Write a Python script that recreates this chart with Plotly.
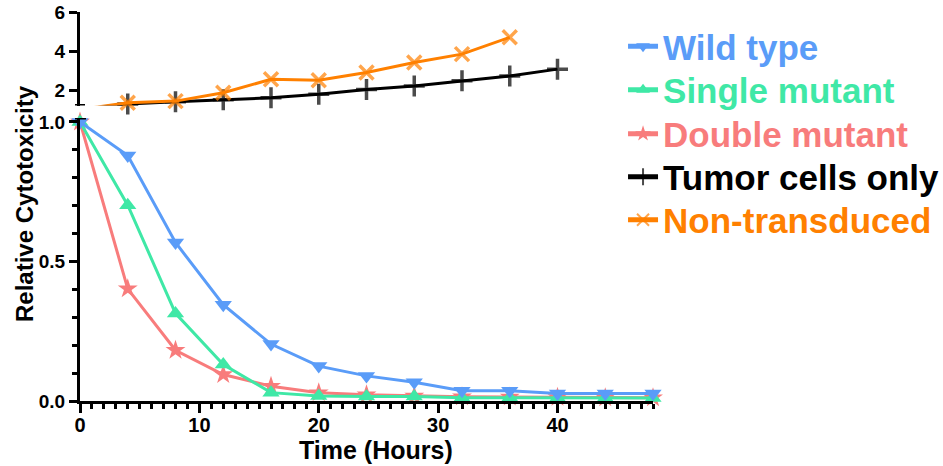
import plotly.graph_objects as go

# Sampling times (hours)
hours = [0, 4, 8, 12, 16, 20, 24, 28, 32, 36, 40, 44, 48]

# Relative cytotoxicity of the transduced effector cells
wild_type = [1.0, 0.88, 0.568, 0.345, 0.204, 0.125, 0.09, 0.067, 0.037, 0.037, 0.027, 0.027, 0.027]
single_mutant = [1.0, 0.702, 0.314, 0.131, 0.03, 0.018, 0.016, 0.016, 0.012, 0.012, 0.011, 0.011, 0.011]
double_mutant = [1.0, 0.402, 0.182, 0.095, 0.053, 0.03, 0.022, 0.018, 0.015, 0.014, 0.013, 0.012, 0.012]

# Control groups (plotted on the upper, broken-off segment of the axis)
hours_tumor = [0, 4, 8, 12, 16, 20, 24, 28, 32, 36, 40]
tumor_only = [1.0, 1.28, 1.40, 1.50, 1.60, 1.78, 2.02, 2.20, 2.47, 2.72, 3.07]
hours_nt = [0, 4, 8, 12, 16, 20, 24, 28, 32, 36]
non_transduced = [1.0, 1.35, 1.43, 1.86, 2.55, 2.50, 2.90, 3.41, 3.84, 4.70]

# Axis tick labels
x_ticks = [0, 10, 20, 30, 40]
y_ticks = [0, 0.5, 1.0]
y_ticklabels = ["0.0", "0.5", "1.0"]
y2_ticks = [2, 4, 6]

C_WT = "#5A9CF8"
C_SM = "#3FE8A6"
C_DM = "#F87C7C"
C_TU = "#000000"
C_NT = "#FF8000"

FONT = "Liberation Sans, Arial, Helvetica, sans-serif"

# Plot-area geometry (pixels) used to place the broken axis and per-row legends
PLOT_TOP, PLOT_BOTTOM = 12, 401
PLOT_H = PLOT_BOTTOM - PLOT_TOP
Y2_RANGE = [1.2, 6]


def paper_y(px):
    return (PLOT_BOTTOM - px) / PLOT_H


def label(text, color):
    return f'<span style="color:{color}">{text}</span>'


def bold(items):
    return [f"<b>{t}</b>" for t in items]


def visible_sizes(values, size):
    # points below the broken-off axis segment keep their line but lose the marker
    return [size if v >= Y2_RANGE[0] else 0 for v in values]


fig = go.Figure()

# Lower panel: effector cell groups
fig.add_trace(go.Scatter(
    x=hours, y=double_mutant, mode="lines+markers", name=label("Double mutant", C_DM),
    line=dict(color=C_DM, width=3), marker=dict(symbol="star", size=15, color=C_DM),
    xaxis="x", yaxis="y", legend="legend3", cliponaxis=False))
fig.add_trace(go.Scatter(
    x=hours, y=single_mutant, mode="lines+markers", name=label("Single mutant", C_SM),
    line=dict(color=C_SM, width=3), marker=dict(symbol="triangle-up", size=15, color=C_SM),
    xaxis="x", yaxis="y", legend="legend2", cliponaxis=False))
fig.add_trace(go.Scatter(
    x=hours, y=wild_type, mode="lines+markers", name=label("Wild type", C_WT),
    line=dict(color=C_WT, width=3), marker=dict(symbol="triangle-down", size=15, color=C_WT),
    xaxis="x", yaxis="y", legend="legend", cliponaxis=False))

# Upper panel: controls
fig.add_trace(go.Scatter(
    x=hours_tumor, y=tumor_only, mode="lines+markers", name=label("Tumor cells only", C_TU),
    line=dict(color=C_TU, width=3),
    marker=dict(symbol="cross-thin", size=visible_sizes(tumor_only, 15), color=C_TU,
                line=dict(color=C_TU, width=3.5)),
    xaxis="x2", yaxis="y2", legend="legend4", cliponaxis=False))
fig.add_trace(go.Scatter(
    x=hours_nt, y=non_transduced, mode="lines+markers", name=label("Non-transduced", C_NT),
    line=dict(color=C_NT, width=3),
    marker=dict(symbol="x-thin", size=visible_sizes(non_transduced, 14), color=C_NT,
                line=dict(color=C_NT, width=3.5)),
    xaxis="x2", yaxis="y2", legend="legend5", cliponaxis=False))

xtickfont = dict(family=FONT, size=20, color="black", weight="bold")
ytickfont = dict(family=FONT, size=19, color="black", weight="bold")


def row_legend(center_px):
    return dict(
        x=0.9477, xanchor="left", y=paper_y(center_px), yanchor="middle",
        font=dict(family=FONT, size=35, weight="bold"),
        itemsizing="constant",
        itemclick=False, itemdoubleclick=False, bgcolor="rgba(0,0,0,0)",
    )


fig.update_layout(
    width=943, height=466,
    margin=dict(l=80, r=290, t=PLOT_TOP, b=466 - PLOT_BOTTOM, autoexpand=False),
    paper_bgcolor="white", plot_bgcolor="white",
    font=dict(family=FONT, color="black"),
    showlegend=True,
    legend=row_legend(46.5),
    legend2=row_legend(90),
    legend3=row_legend(134),
    legend4=row_legend(177),
    legend5=row_legend(220),
    xaxis=dict(
        domain=[0, 1], range=[0, 48], anchor="y",
        showline=True, linecolor="black", linewidth=3,
        ticks="outside", ticklen=9, tickwidth=3, tickcolor="black",
        tickvals=x_ticks, ticktext=bold(x_ticks), tickfont=xtickfont,
        ticklabelstandoff=-5,
        showgrid=False, zeroline=False,
        minor=dict(dtick=1, tick0=0, ticks="outside", ticklen=5, tickwidth=3, tickcolor="black"),
    ),
    yaxis=dict(
        domain=[0, 0.7275], range=[0, 1.0143], anchor="x",
        showline=True, linecolor="black", linewidth=3,
        ticks="outside", ticklen=8, tickwidth=3, tickcolor="black",
        tickvals=y_ticks, ticktext=bold(y_ticklabels),
        tickfont=ytickfont, showgrid=False, zeroline=False,
        minor=dict(tickvals=[0.1, 0.2, 0.3, 0.4, 0.6, 0.7, 0.8, 0.9],
                   ticks="outside", ticklen=5, tickwidth=3, tickcolor="black"),
    ),
    xaxis2=dict(
        domain=[0, 1], range=[0, 48], anchor="y2", matches="x",
        visible=False, showgrid=False, zeroline=False,
    ),
    yaxis2=dict(
        domain=[paper_y(105.6), 1.0], range=Y2_RANGE, anchor="x2",
        showline=True, linecolor="black", linewidth=3,
        ticks="outside", ticklen=8, tickwidth=3, tickcolor="black",
        tickvals=y2_ticks, ticktext=bold(y2_ticks), tickfont=ytickfont,
        showgrid=False, zeroline=False,
    ),
    annotations=[
        dict(text="<b>Relative Cytotoxicity</b>", xref="paper", yref="paper",
             x=(24 - 80) / 573, y=paper_y(204), xanchor="center", yanchor="middle",
             textangle=-90, showarrow=False, font=dict(family=FONT, size=24, color="black")),
        dict(text="<b>Time (Hours)</b>", xref="paper", yref="paper",
             x=(376 - 80) / 573, y=paper_y(450), xanchor="center", yanchor="middle",
             showarrow=False, font=dict(family=FONT, size=25, color="black")),
    ],
    shapes=[
        # axis-break marks on the y axis
        dict(type="line", xref="paper", yref="y2", xsizemode="pixel", xanchor=0,
             x0=-5, x1=5, y0=Y2_RANGE[0], y1=Y2_RANGE[0], line=dict(color="black", width=3)),
        dict(type="line", xref="paper", yref="y", xsizemode="pixel", xanchor=0,
             x0=-5, x1=6, y0=1.0143, y1=1.0143, line=dict(color="black", width=3)),
    ],
)

fig.write_html("out.html")
